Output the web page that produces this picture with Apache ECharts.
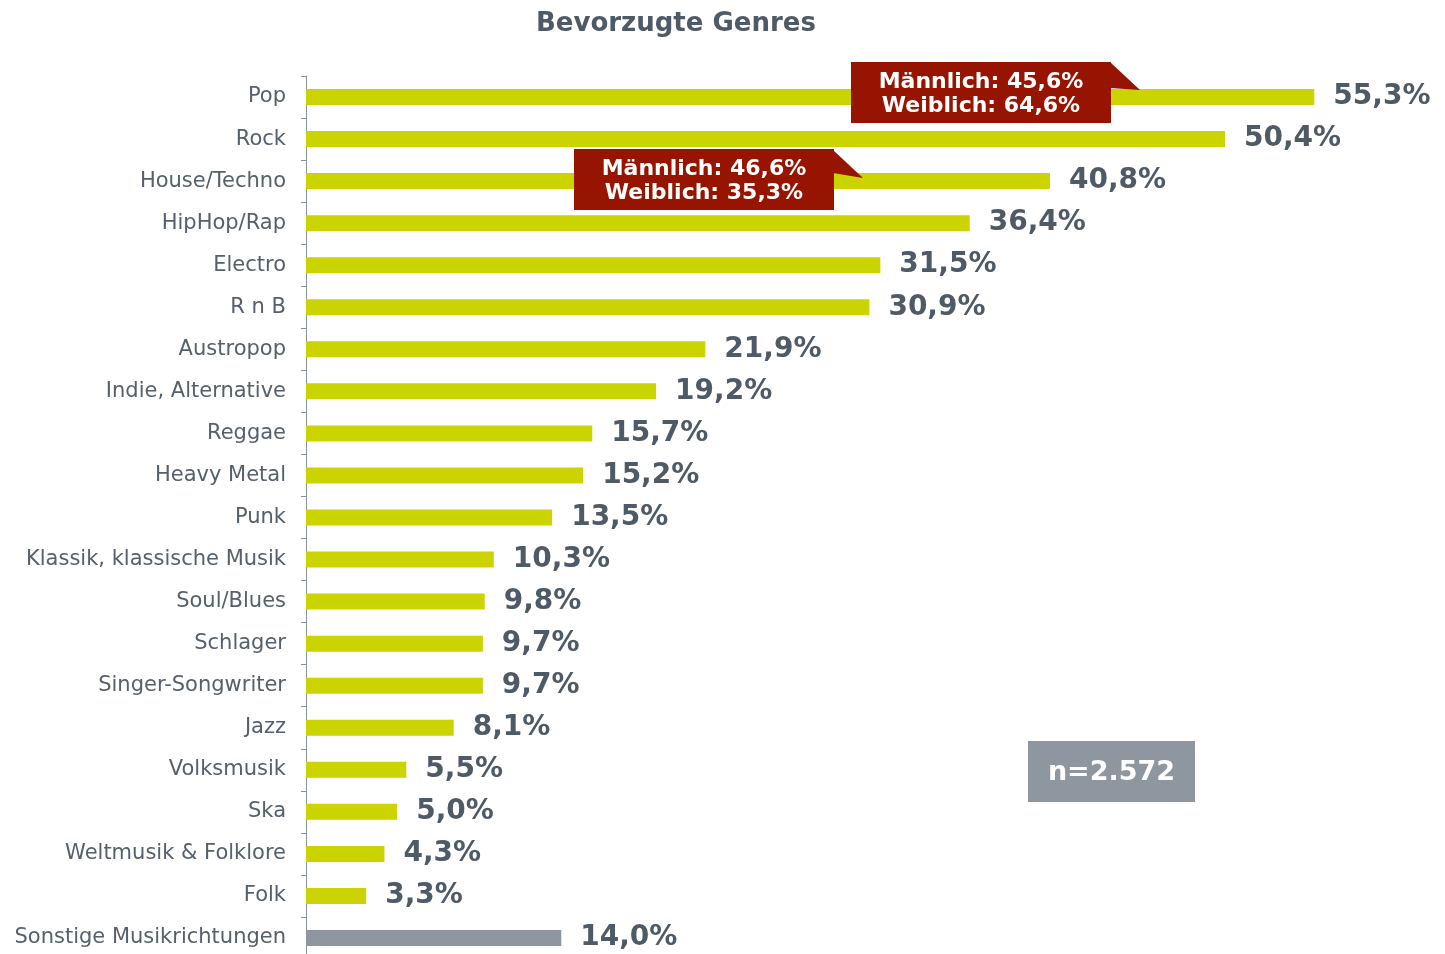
<!DOCTYPE html>
<html><head><meta charset="utf-8">
<script src="https://cdn.jsdelivr.net/npm/echarts@6/dist/echarts.min.js"></script>
<style>html,body{margin:0;padding:0;background:#fff}#c{width:1445px;height:954px}</style>
</head><body><div id="c"></div>
<script>
const categories = ["Pop","Rock","House/Techno","HipHop/Rap","Electro","R n B","Austropop","Indie, Alternative","Reggae","Heavy Metal","Punk","Klassik, klassische Musik","Soul/Blues","Schlager","Singer-Songwriter","Jazz","Volksmusik","Ska","Weltmusik & Folklore","Folk","Sonstige Musikrichtungen"];
const values = [55.3,50.4,40.8,36.4,31.5,30.9,21.9,19.2,15.7,15.2,13.5,10.3,9.8,9.7,9.7,8.1,5.5,5.0,4.3,3.3,14.0];
const highlightOther = "Sonstige Musikrichtungen";
const callouts = [
  {lines:["Männlich: 45,6%","Weiblich: 64,6%"]},
  {lines:["Männlich: 46,6%","Weiblich: 35,3%"]}
];
const sampleText = "n=2.572";

const GREEN = "#cbd300", GRAY = "#8e969f", RED = "#961400", TXT = "#4f5a67", LBL = "#56606c";
const FONT = "DejaVu Sans, Verdana, sans-serif";

const chart = echarts.init(document.getElementById('c'));
const data = values.map((v,i)=>({value:v, itemStyle:{color: categories[i]===highlightOther ? GRAY : GREEN}}));

function calloutGraphic(x,y,w,h,tip,upper,lower,lines){
  return {
    type:'group', z:100, children:[
      {type:'polygon', z:100, shape:{points:[[x+w-1,y+upper],[tip[0],tip[1]],[x+w-1,y+lower]]}, style:{fill:RED}},
      {type:'rect', z:100, shape:{x:x,y:y,width:w,height:h}, style:{fill:RED}},
      {type:'text', z:101, x:x+w/2, y:y+h/2+2, style:{text:lines.join('\n'), fill:'#fff', font:'bold 22px '+FONT, align:'center', verticalAlign:'middle', lineHeight:24}}
    ]
  };
}

chart.setOption({
  animation:false,
  title:{text:"Bevorzugte Genres", left:531, top:6, textStyle:{fontFamily:FONT, fontWeight:'bold', fontSize:26, color:TXT}},
  grid:{left:306, right:45, top:76, height:883, containLabel:false, outerBoundsMode:'none'},
  xAxis:{type:'value', min:0, max:60, show:false},
  yAxis:{type:'category', data:categories, inverse:true,
    axisLine:{show:true, lineStyle:{color:'#8a9099', width:1}},
    axisTick:{show:true, length:5, lineStyle:{color:'#8a9099'}},
    axisLabel:{fontFamily:FONT, fontSize:21, color:LBL, margin:20, padding:[4,0,0,0]}
  },
  series:[{type:'bar', data:data, barWidth:16,
    label:{show:true, position:'right', distance:19, fontFamily:FONT, fontWeight:'bold', fontSize:28, color:TXT, padding:[5,0,0,0],
      formatter:p=>p.value.toFixed(1).replace('.',',')+'%'}
  }],
  graphic:[
    calloutGraphic(851,62,260,61,[1140,90],0,26,callouts[0].lines),
    calloutGraphic(574,149,260,61,[863,178],1,24,callouts[1].lines),
    {type:'group', z:100, children:[
      {type:'rect', z:100, shape:{x:1028,y:741,width:167,height:61}, style:{fill:GRAY}},
      {type:'text', z:101, x:1111.5, y:773, style:{text:sampleText, fill:'#fff', font:'bold 27px '+FONT, align:'center', verticalAlign:'middle'}}
    ]}
  ]
});
</script></body></html>
